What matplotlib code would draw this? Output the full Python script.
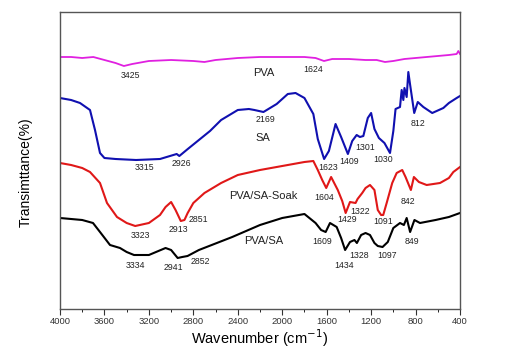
import matplotlib
matplotlib.use("Agg")
import matplotlib.pyplot as plt
from matplotlib.ticker import MultipleLocator

plt.rcParams["font.family"] = ["Liberation Sans", "DejaVu Sans"]

# Wavenumber (cm-1) / relative transmittance (arbitrary units, offset curves)
pva_wn = [4000, 3900, 3800, 3700, 3600, 3500, 3425, 3350, 3200, 3000, 2800, 2700, 2600,
          2400, 2200, 2000, 1800, 1700, 1624, 1550, 1400, 1250, 1150, 1075, 1000, 900,
          800, 700, 600, 500, 430, 415, 400]
pva_t = [252, 252, 251, 252, 249, 246, 243, 245, 248, 249, 248, 247, 249,
         251, 252, 252, 252, 251, 248, 250, 250, 249, 249, 247, 248, 250,
         251, 252, 253, 254, 255, 258, 255]

sa_wn = [4000, 3900, 3820, 3730, 3685, 3640, 3600, 3500, 3315, 3100, 2980, 2950, 2926,
         2850, 2750, 2650, 2550, 2400, 2300, 2250, 2169, 2050, 1950, 1880, 1800,
         1720, 1680, 1623, 1580, 1520, 1470, 1409, 1370, 1330, 1301, 1270, 1230,
         1200, 1170, 1130, 1080, 1050, 1030, 1000, 980, 940, 925, 910, 900, 880,
         865, 850, 812, 780, 730, 650, 550, 500, 430, 400]
sa_t = [211, 209, 206, 199, 179, 156, 151, 150, 149, 150, 154, 155, 153,
        160, 169, 178, 189, 199, 200, 199, 197, 205, 215, 216, 211,
        195, 170, 150, 158, 185, 172, 155, 168, 174, 172, 173, 191,
        196, 180, 171, 166, 160, 156, 178, 200, 202, 219, 209, 221, 212,
        237, 225, 196, 207, 202, 196, 201, 206, 211, 213]

soak_wn = [4000, 3900, 3800, 3730, 3640, 3577, 3487, 3400, 3323, 3200, 3100, 3050,
           3000, 2960, 2913, 2880, 2851, 2800, 2700, 2550, 2400, 2200, 2000, 1800,
           1720, 1680, 1640, 1604, 1560, 1500, 1460, 1429, 1390, 1340, 1322, 1280,
           1250, 1210, 1170, 1140, 1110, 1091, 1060, 1010, 970, 920, 890, 842, 815,
           770, 700, 580, 500, 460, 400]
soak_t = [146, 144, 141, 137, 126, 106, 92, 86, 83, 86, 94, 102,
          107, 99, 88, 89, 96, 106, 116, 126, 134, 139, 143, 147,
          148, 139, 129, 121, 132, 119, 108, 96, 107, 106, 110, 116,
          121, 124, 119, 99, 94, 94, 106, 126, 136, 139, 132, 119, 132,
          127, 124, 126, 131, 137, 142]

pvasa_wn = [4000, 3800, 3703, 3640, 3550, 3460, 3400, 3334, 3200, 3050, 3000,
            2941, 2900, 2852, 2750, 2450, 2200, 2000, 1800, 1700, 1650, 1609, 1570,
            1510, 1470, 1434, 1390, 1350, 1328, 1290, 1250, 1210, 1170, 1140, 1097,
            1050, 1000, 940, 905, 880, 849, 810, 760, 620, 500, 400]
pvasa_t = [91, 89, 86, 77, 64, 61, 57, 54, 54, 61, 59,
           51, 52, 53, 59, 72, 84, 91, 95, 86, 79, 77, 86,
           82, 71, 59, 67, 69, 66, 74, 76, 74, 66, 63, 62,
           67, 81, 86, 84, 91, 77, 89, 86, 89, 92, 96]

# Peak annotations: (text, wavenumber, y)
labels = [
    ("3425", 3370, 234), ("1624", 1720, 239), ("2169", 2150, 189), ("3315", 3240, 141),
    ("2926", 2910, 146), ("1623", 1590, 141), ("1409", 1400, 147), ("1301", 1250, 162),
    ("1030", 1090, 150), ("812", 780, 186),
    ("3323", 3280, 74), ("2913", 2930, 79), ("2851", 2750, 90), ("1604", 1620, 111),
    ("1429", 1420, 89), ("1322", 1300, 97), ("1091", 1090, 88), ("842", 870, 108),
    ("3334", 3320, 43), ("2941", 2980, 42), ("2852", 2740, 48), ("1609", 1640, 68),
    ("1434", 1440, 43), ("1328", 1310, 53), ("1097", 1060, 54), ("849", 830, 68),
]
names = [("PVA", 2170, 236), ("SA", 2170, 171), ("PVA/SA-Soak", 2170, 113), ("PVA/SA", 2170, 68)]

fig = plt.figure(figsize=(5.09, 3.51), dpi=100)
ax = fig.add_axes([60 / 509, 42 / 351, 400 / 509, 297 / 351])

ax.plot(pva_wn, pva_t, color="#e020e0", lw=1.3)
ax.plot(sa_wn, sa_t, color="#1010b0", lw=1.5)
ax.plot(soak_wn, soak_t, color="#e01818", lw=1.5)
ax.plot(pvasa_wn, pvasa_t, color="black", lw=1.5)

for txt, x, y in labels:
    ax.text(x, y, txt, fontsize=6.3, ha="center", va="center", color="#222222")
for txt, x, y in names:
    ax.text(x, y, txt, fontsize=8, ha="center", va="center", color="#222222")

ax.set_xlim(4000, 400)
ax.set_ylim(0, 297)
ax.xaxis.set_major_locator(MultipleLocator(400))
ax.xaxis.set_minor_locator(MultipleLocator(200))
ax.tick_params(axis="x", which="major", length=4, labelsize=6.8, pad=2, colors="#333333")
ax.tick_params(axis="x", which="minor", length=2)
ax.set_yticks([])
for s in ax.spines.values():
    s.set_color("#555555")
    s.set_linewidth(1.0)

ax.set_xlabel("Wavenumber (cm$^{-1}$)", fontsize=10.5, labelpad=1)
ax.set_ylabel("Transimttance(%)", fontsize=10)
ax.yaxis.set_label_coords(-0.068, 0.46)

fig.savefig("out.png", dpi=100, facecolor="white")
